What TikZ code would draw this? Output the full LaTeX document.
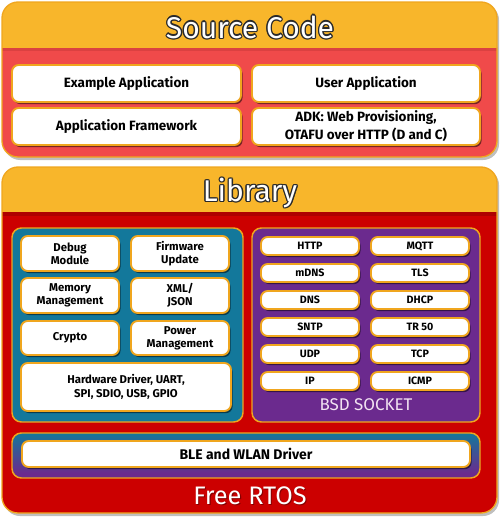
\documentclass[tikz,border=0pt]{standalone}
\usepackage{fontspec}
\setmainfont{Fira Sans}
\usetikzlibrary{shadows}
\definecolor{cYel}{HTML}{F8B62B}
\definecolor{cSrc}{HTML}{F04A4A}
\definecolor{cSrcDark}{HTML}{C83A3A}
\definecolor{cLib}{HTML}{CC0000}
\definecolor{cLibDark}{HTML}{9A0000}
\definecolor{cOrg}{HTML}{F29020}
\definecolor{cTeal}{HTML}{13789B}
\definecolor{cPurp}{HTML}{6B2A8E}
\definecolor{cBord}{HTML}{F0A61E}
\definecolor{cTtl}{HTML}{2A2A2A}
\definecolor{cBsd}{HTML}{F2E2F2}
\pgfdeclareverticalshading{srcfade}{100bp}{color(0bp)=(cOrg); color(11bp)=(cSrc); color(93bp)=(cSrc); color(100bp)=(cSrcDark)}
\pgfdeclareverticalshading{libfade}{100bp}{color(0bp)=(cOrg); color(6bp)=(cLib); color(97bp)=(cLib); color(100bp)=(cLibDark)}
\pgfdeclareverticalshading{tealfade}{100bp}{color(0bp)=(cOrg); color(12bp)=(cTeal); color(100bp)=(cTeal)}
\pgfdeclareverticalshading{purpfade}{100bp}{color(0bp)=(cOrg); color(12bp)=(cPurp); color(100bp)=(cPurp)}
\pgfdeclareverticalshading{blefade}{100bp}{color(0bp)=(cPurp); color(30bp)=(cPurp); color(75bp)=(cTeal); color(100bp)=(cTeal)}
\tikzset{
  wbox/.style={draw=cBord, line width=1.4pt, fill=white, rounded corners=5pt,
    inner sep=0pt, align=center,
    drop shadow={shadow xshift=1.2pt, shadow yshift=-1.6pt, opacity=0.5, fill=black}},
  bigbox/.style={wbox, font=\bfseries\fontsize{10.1}{13.5}\selectfont},
  libbox/.style={wbox, font=\bfseries\fontsize{8.5}{9.6}\selectfont},
  netbox/.style={wbox, font=\bfseries\fontsize{8}{9.6}\selectfont},
  ttlback/.style={text=cTtl, font=\fontsize{22.5}{24}\selectfont},
  ttlfront/.style={text=white, font=\fontsize{22.5}{24}\selectfont},
  panel/.style={draw=cBord, line width=1.1pt, rounded corners=7pt},
}
% name, style, x1, y1, x2, y2, text
\newcommand\mybx[7]{\node[#2, minimum width={(#5-#3)*0.75pt}, minimum height={(#6-#4)*0.75pt}] (#1) at ({(#3+#5)/2},{(#4+#6)/2}) {#7};}
\begin{document}
\begin{tikzpicture}[x=0.75pt, y=-0.75pt]
\useasboundingbox (0,0) rectangle (500,517);
% ---------- Source Code block
\fill[black, opacity=0.25, rounded corners=12] (4,4) rectangle (499,160);
\begin{scope}
  \clip[rounded corners=12] (2,2) rectangle (497,157);
  \shade[shading=srcfade] (2,48) rectangle (497,157);
  \fill[cYel] (2,2) rectangle (497,48);
  \fill[cSrcDark, opacity=0.5] (2,48) rectangle (497,51);
\end{scope}
\draw[cBord, line width=1pt, rounded corners=12] (2,2) rectangle (497,157);
\foreach \dx/\dy [count=\k] in {1/0,-1/0,0/1,0/-1,0.7/0.7,0.7/-0.7,-0.7/0.7,-0.7/-0.7}
  \node[ttlback] (srcbg\k) at ([xshift=\dx pt, yshift=\dy pt] 250,27) {Source Code};
\node[ttlfront] (srctitle) at (250,27) {Source Code};
\mybx{ex}{bigbox}{12}{65}{241}{102}{Example Application}
\mybx{ua}{bigbox}{252}{65}{480}{102}{User Application}
\mybx{af}{bigbox}{12}{108}{241}{145}{Application Framework}
\mybx{adk}{bigbox}{252}{108}{480}{145}{ADK: Web Provisioning,\\OTAFU over HTTP (D and C)}
% ---------- Library block
\fill[black, opacity=0.25, rounded corners=12] (4,169) rectangle (499,516);
\begin{scope}
  \clip[rounded corners=12] (2,167) rectangle (497,513);
  \shade[shading=libfade] (2,212) rectangle (497,513);
  \fill[cYel] (2,167) rectangle (497,212);
  \fill[cLibDark, opacity=0.6] (2,212) rectangle (497,216);
\end{scope}
\draw[cBord, line width=1pt, rounded corners=12] (2,167) rectangle (497,513);
\foreach \dx/\dy [count=\k] in {1/0,-1/0,0/1,0/-1,0.7/0.7,0.7/-0.7,-0.7/0.7,-0.7/-0.7}
  \node[ttlback] (libbg\k) at ([xshift=\dx pt, yshift=\dy pt] 250,193) {Library};
\node[ttlfront] (libtitle) at (250,193) {Library};
% blue panel
\shade[shading=tealfade, rounded corners=7pt] (12,228) rectangle (243,422);
\draw[panel] (12,228) rectangle (243,422);
\mybx{dbg}{libbox}{21}{236}{119}{271}{Debug\\Module}
\mybx{fw}{libbox}{131}{236}{229}{271}{Firmware\\Update}
\mybx{mem}{libbox}{21}{278}{119}{313}{Memory\\Management}
\mybx{xml}{libbox}{131}{278}{229}{313}{XML/\\JSON}
\mybx{cry}{libbox}{21}{321}{119}{355}{Crypto}
\mybx{pwr}{libbox}{131}{321}{229}{355}{Power\\Management}
\mybx{hw}{libbox, font=\bfseries\fontsize{8.5}{10}\selectfont}{21}{363}{231}{411}{Hardware Driver, UART,\\SPI, SDIO, USB, GPIO}
% purple panel
\shade[shading=purpfade, rounded corners=7pt] (252,228) rectangle (480,422);
\draw[panel] (252,228) rectangle (480,422);
\mybx{http}{netbox}{261}{237}{359}{255}{HTTP}
\mybx{mqtt}{netbox}{371}{237}{469}{255}{MQTT}
\mybx{mdns}{netbox}{261}{264}{359}{282}{mDNS}
\mybx{tls}{netbox}{371}{264}{469}{282}{TLS}
\mybx{dns}{netbox}{261}{291}{359}{309}{DNS}
\mybx{dhcp}{netbox}{371}{291}{469}{309}{DHCP}
\mybx{sntp}{netbox}{261}{318}{359}{336}{SNTP}
\mybx{tr}{netbox}{371}{318}{469}{336}{TR 50}
\mybx{udp}{netbox}{261}{345}{359}{363}{UDP}
\mybx{tcp}{netbox}{371}{345}{469}{363}{TCP}
\mybx{ip}{netbox}{261}{372}{359}{390}{IP}
\mybx{icmp}{netbox}{371}{372}{469}{390}{ICMP}
\node[text=cBsd, font=\fontsize{12.7}{14}\selectfont] (bsd) at (366,405) {BSD SOCKET};
% BLE panel
\shade[shading=blefade, rounded corners=7pt] (12,433) rectangle (480,478);
\draw[panel] (12,433) rectangle (480,478);
\mybx{ble}{bigbox, font=\bfseries\fontsize{10.5}{12}\selectfont}{22}{441}{470}{467}{BLE and WLAN Driver}
% Free RTOS
\node[text=black, opacity=0.35, font=\fontsize{19}{21}\selectfont] (rtossh) at ([xshift=0.8pt, yshift=-0.8pt] 250,496) {Free RTOS};
\node[text=white, font=\fontsize{19}{21}\selectfont] (rtos) at (250,496) {Free RTOS};
\end{tikzpicture}
\end{document}
